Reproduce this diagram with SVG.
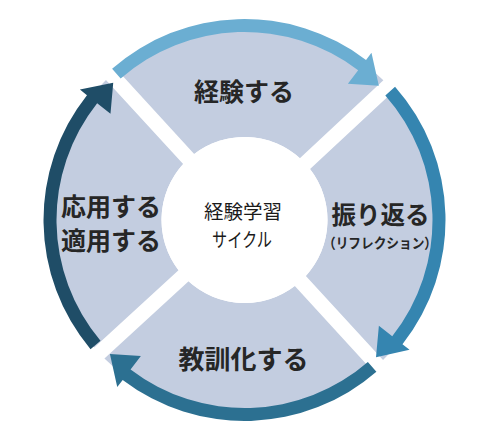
<svg xmlns="http://www.w3.org/2000/svg" width="500" height="445" viewBox="0 0 500 445">
<style>
.seg{fill:#C3CDE0;}
.lbl{font-family:"Noto Sans CJK JP","Noto Sans CJK SC",sans-serif;font-weight:700;fill:#262626;text-anchor:middle;}
.big{font-size:25px;}
.hub{font-family:"Noto Sans CJK JP","Noto Sans CJK SC",sans-serif;font-weight:400;font-size:19.5px;fill:#1a1a1a;text-anchor:middle;}
</style>
<rect width="500" height="445" fill="#FFFFFF"/>
<g id="segment-experience">
<path class="seg" d="M117.04 69.79 A197 197 0 0 1 383.37 80.27 L299.84 158.15 A83 83 0 0 0 194.19 153.99 Z"/>
<text class="lbl big" x="244" y="100.5">経験する</text>
</g>
<g id="segment-reflection">
<path class="seg" d="M393.61 91.24 A197 197 0 0 1 383.03 360.07 L305.87 275.88 A83 83 0 0 0 310.08 169.12 Z"/>
<text class="lbl" x="380.5" y="223.5" font-size="24.5px">振り返る</text>
<text class="lbl" x="380" y="247.5" font-size="14px" textLength="114" lengthAdjust="spacingAndGlyphs">（リフレクション）</text>
</g>
<g id="segment-lesson">
<path class="seg" d="M371.96 370.21 A197 197 0 0 1 104.43 358.53 L188.62 281.37 A83 83 0 0 0 294.81 286.01 Z"/>
<text class="lbl" x="243.5" y="368.5" font-size="26px">教訓化する</text>
</g>
<g id="segment-apply">
<path class="seg" d="M94.29 347.46 A197 197 0 0 1 105.97 79.93 L183.13 164.12 A83 83 0 0 0 178.48 270.31 Z"/>
<text class="lbl big" x="111" y="215.5"><tspan x="111">応用する</tspan><tspan x="111" y="249.5">適用する</tspan></text>
</g>
<g id="hub">
<circle cx="244.5" cy="220" r="83" fill="#FFFFFF"/>
<text class="hub" x="243" y="218.5">経験学習</text>
<text class="hub" x="242" y="247" textLength="60" lengthAdjust="spacingAndGlyphs">サイクル</text>
</g>
<g id="connectors">
<path fill="#6BAED2" d="M112.10 68.77 A201 201 0 0 1 366.02 59.90 L371.47 52.73 L378.85 85.65 L347.89 83.80 L358.16 70.26 A188 188 0 0 0 120.66 78.55 Z"/>
<path fill="#3585B0" d="M395.05 86.82 A201 201 0 0 1 402.47 344.30 L409.54 349.86 L376.00 357.14 L378.89 325.75 L392.25 336.26 A188 188 0 0 0 385.31 95.43 Z"/>
<path fill="#2C7091" d="M376.38 371.69 A201 201 0 0 1 122.69 379.90 L117.24 387.06 L109.92 354.12 L140.87 356.03 L130.57 369.55 A188 188 0 0 0 367.85 361.88 Z"/>
<path fill="#1F4D67" d="M90.53 349.20 A201 201 0 0 1 86.98 95.16 L79.92 89.57 L113.23 82.63 L110.49 113.79 L97.16 103.23 A188 188 0 0 0 100.49 340.85 Z"/>
</g>
</svg>
